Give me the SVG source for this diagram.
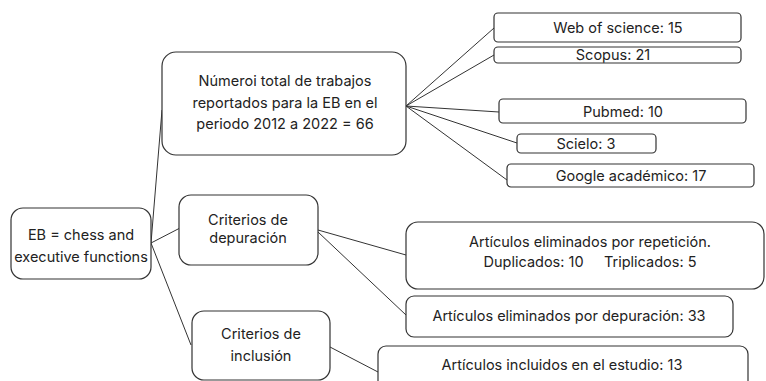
<svg xmlns="http://www.w3.org/2000/svg" width="766" height="381" viewBox="0 0 766 381">
<style>
.b{fill:#fff;stroke:#333;stroke-width:1.2}
.t{font-family:Inter,"Liberation Sans",sans-serif;font-size:14.5px;fill:#222;text-anchor:middle}
.c line{stroke:#333;stroke-width:1}
</style>
<rect width="766" height="381" fill="#fff"/>
<g class="c">
<line x1="151" y1="243" x2="162" y2="110"/>
<line x1="151" y1="243" x2="180" y2="228"/>
<line x1="151" y1="243" x2="191" y2="345"/>
<line x1="406" y1="106" x2="494" y2="28"/>
<line x1="406" y1="106" x2="494" y2="55"/>
<line x1="406" y1="106" x2="499" y2="112"/>
<line x1="406" y1="106" x2="517" y2="143"/>
<line x1="406" y1="106" x2="507" y2="180"/>
<line x1="318" y1="230" x2="406" y2="255"/>
<line x1="318" y1="232" x2="406" y2="315"/>
<line x1="330" y1="347" x2="378" y2="372"/>
</g>
<g id="eb"><rect class="b" x="11" y="208" width="140" height="71" rx="12"/>
<text class="t" x="81" y="240">EB = chess and</text><text class="t" x="81" y="262">executive functions</text></g>
<g id="total"><rect class="b" x="162" y="52" width="244" height="103" rx="14"/>
<text class="t" x="285" y="86">Númeroi total de trabajos</text><text class="t" x="285" y="108">reportados para la EB en el</text><text class="t" x="285" y="129">periodo 2012 a 2022 = 66</text></g>
<g id="wos"><rect class="b" x="494" y="13" width="247" height="29" rx="4"/><text class="t" x="618" y="33">Web of science: 15</text></g>
<g id="scopus"><rect class="b" x="494" y="47" width="247" height="16" rx="4"/><text class="t" x="613" y="60">Scopus: 21</text></g>
<g id="pubmed"><rect class="b" x="499" y="99" width="247" height="24" rx="4"/><text class="t" x="623" y="117">Pubmed: 10</text></g>
<g id="scielo"><rect class="b" x="517" y="134" width="139" height="19" rx="4"/><text class="t" x="586" y="149">Scielo: 3</text></g>
<g id="google"><rect class="b" x="507" y="164" width="247" height="23" rx="4"/><text class="t" x="631" y="181">Google académico: 17</text></g>
<g id="depuracion"><rect class="b" x="179" y="195" width="139" height="70" rx="12"/>
<text class="t" x="248" y="225">Criterios de</text><text class="t" x="248" y="243">depuración</text></g>
<g id="inclusion"><rect class="b" x="192" y="311" width="138" height="69" rx="12"/>
<text class="t" x="261" y="339">Criterios de</text><text class="t" x="261" y="361">inclusión</text></g>
<g id="repeticion"><rect class="b" x="406" y="222" width="358" height="67" rx="12"/>
<text class="t" x="590" y="247">Artículos eliminados por repetición.</text><text class="t" x="590" y="267" xml:space="preserve">Duplicados: 10     Triplicados: 5</text></g>
<g id="elim"><rect class="b" x="406" y="296" width="327" height="41" rx="8"/><text class="t" x="569" y="321">Artículos eliminados por depuración: 33</text></g>
<g id="incl"><rect class="b" x="378" y="346" width="370" height="50" rx="8"/><text class="t" x="562" y="370">Artículos incluidos en el estudio: 13</text></g>
</svg>
